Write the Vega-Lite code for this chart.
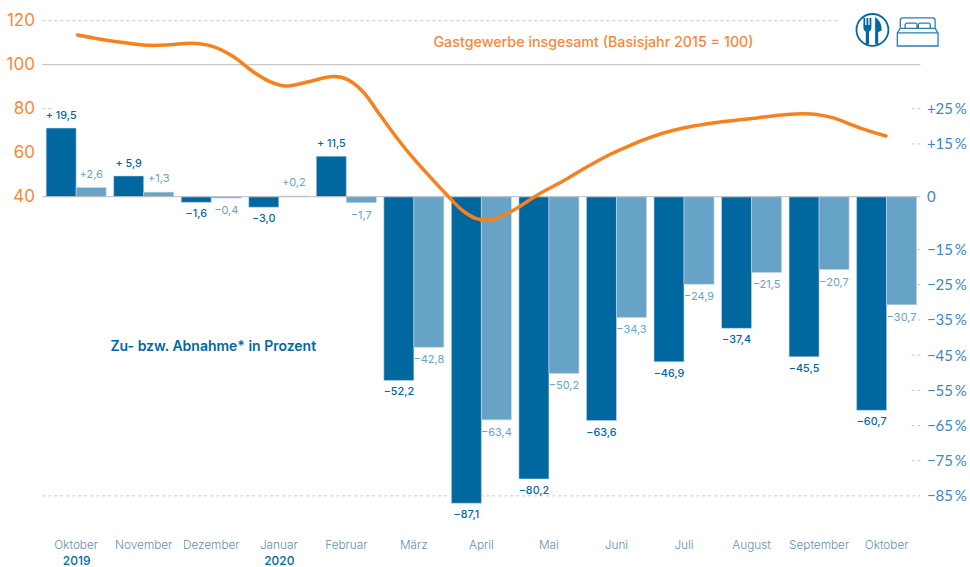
{
"$schema":"https://vega.github.io/schema/vega-lite/v6.json",
"width":878,"height":510.4,"autosize":"none",
"padding":{"left":42.4,"top":20.7,"right":50,"bottom":36},
"background":"white",
"config":{"view":{"stroke":null},"font":"Inter"},
"datasets":{
"balken":[
{"monat":"Oktober 2019","reihe":"a","wert":19.5,"text":"+ 19,5"},{"monat":"Oktober 2019","reihe":"b","wert":2.6,"text":"+2,6"},
{"monat":"November","reihe":"a","wert":5.9,"text":"+ 5,9"},{"monat":"November","reihe":"b","wert":1.3,"text":"+1,3"},
{"monat":"Dezember","reihe":"a","wert":-1.6,"text":"−1,6"},{"monat":"Dezember","reihe":"b","wert":-0.4,"text":"−0,4"},
{"monat":"Januar 2020","reihe":"a","wert":-3.0,"text":"−3,0"},{"monat":"Januar 2020","reihe":"b","wert":0.2,"text":"+0,2"},
{"monat":"Februar","reihe":"a","wert":11.5,"text":"+ 11,5"},{"monat":"Februar","reihe":"b","wert":-1.7,"text":"−1,7"},
{"monat":"März","reihe":"a","wert":-52.2,"text":"−52,2"},{"monat":"März","reihe":"b","wert":-42.8,"text":"−42,8"},
{"monat":"April","reihe":"a","wert":-87.1,"text":"−87,1"},{"monat":"April","reihe":"b","wert":-63.4,"text":"−63,4"},
{"monat":"Mai","reihe":"a","wert":-80.2,"text":"−80,2"},{"monat":"Mai","reihe":"b","wert":-50.2,"text":"−50,2"},
{"monat":"Juni","reihe":"a","wert":-63.6,"text":"−63,6"},{"monat":"Juni","reihe":"b","wert":-34.3,"text":"−34,3"},
{"monat":"Juli","reihe":"a","wert":-46.9,"text":"−46,9"},{"monat":"Juli","reihe":"b","wert":-24.9,"text":"−24,9"},
{"monat":"August","reihe":"a","wert":-37.4,"text":"−37,4"},{"monat":"August","reihe":"b","wert":-21.5,"text":"−21,5"},
{"monat":"September","reihe":"a","wert":-45.5,"text":"−45,5"},{"monat":"September","reihe":"b","wert":-20.7,"text":"−20,7"},
{"monat":"Oktober 2020","reihe":"a","wert":-60.7,"text":"−60,7"},{"monat":"Oktober 2020","reihe":"b","wert":-30.7,"text":"−30,7"}
],
"kurve":[
{"t":0.02,"index":113.5},{"t":0.5,"index":110.9},{"t":1.09,"index":108.8},{"t":1.39,"index":109.1},{"t":1.73,"index":109.7},{"t":2.03,"index":108.2},{"t":2.33,"index":103.6},{"t":2.62,"index":96.8},{"t":2.87,"index":92.3},{"t":3.1,"index":90.3},{"t":3.42,"index":92.1},{"t":3.81,"index":94.6},{"t":4.02,"index":93.2},{"t":4.25,"index":87.6},{"t":4.5,"index":77.1},{"t":4.75,"index":66.7},{"t":4.95,"index":59.0},{"t":5.24,"index":49.0},{"t":5.49,"index":40.8},{"t":5.73,"index":33.5},{"t":5.94,"index":29.9},{"t":6.09,"index":29.4},{"t":6.28,"index":30.8},{"t":6.53,"index":34.9},{"t":6.83,"index":40.8},{"t":7.21,"index":47.1},{"t":7.51,"index":52.6},{"t":7.86,"index":58.5},{"t":8.2,"index":63.2},{"t":8.4,"index":65.8},{"t":8.75,"index":69.4},{"t":9.14,"index":72.1},{"t":9.54,"index":74.0},{"t":9.94,"index":75.3},{"t":10.32,"index":76.7},{"t":10.72,"index":77.7},{"t":10.97,"index":77.4},{"t":11.21,"index":75.8},{"t":11.61,"index":71.2},{"t":11.99,"index":67.6}
],
"gestrichelt":[
{"stufe":120,"von":-0.5,"bis":11.3},{"stufe":80,"von":-0.5,"bis":-0.35},{"stufe":-96,"von":-0.5,"bis":12.5},
{"stufe":80,"von":12.37,"bis":12.5},{"stufe":64,"von":12.37,"bis":12.5},{"stufe":16,"von":12.37,"bis":12.5},{"stufe":0,"von":12.37,"bis":12.5},{"stufe":-16,"von":12.37,"bis":12.5},{"stufe":-32,"von":12.37,"bis":12.5},{"stufe":-48,"von":12.37,"bis":12.5},{"stufe":-64,"von":12.37,"bis":12.5},{"stufe":-80,"von":12.37,"bis":12.5}
]
},
"resolve":{"scale":{"x":"independent","y":"independent"},"axis":{"x":"independent","y":"independent"}},
"layer":[
{
"data":{"name":"gestrichelt"},
"layer":[
{"mark":{"type":"rule","color":"#c6c6c6","strokeWidth":1,"strokeDash":[3,3]},
"encoding":{
"x":{"field":"von","type":"quantitative","scale":{"domain":[-0.5,12.5],"nice":false,"zero":false},"axis":null},
"x2":{"field":"bis"},
"y":{"field":"stufe","type":"quantitative","scale":{"domain":[-112,120],"nice":false,"zero":false},
"axis":{"orient":"left","values":[40,60,80,100,120],"title":null,"domain":false,"ticks":false,"grid":false,"labelColor":"#f5893a","labelFontSize":17,"labelFont":"Inter","labelFontWeight":400,"labelPadding":8}}
}}
]
},
{
"data":{"name":"balken"},
"encoding":{
"x":{"field":"monat","type":"nominal","sort":null,
"scale":{"domain":["Oktober 2019","November","Dezember","Januar 2020","Februar","März","April","Mai","Juni","Juli","August","September","Oktober 2020"],"paddingInner":0,"paddingOuter":0},
"axis":{"orient":"bottom","title":null,"domain":false,"ticks":false,"grid":false,"labelAngle":0,"labelColor":"#5a92b6","labelFontSize":11.8,"labelFontWeight":300,"labelPadding":8,"labelExpr":"split(datum.label,' ')[0]"}},
"xOffset":{"field":"reihe","type":"nominal","scale":{"domain":["a","b"],"paddingInner":0,"paddingOuter":0.125}},
"y":{"field":"wert","type":"quantitative","scale":{"domain":[-95,50],"nice":false,"zero":false},
"axis":{"orient":"right","values":[25,15,0,-15,-25,-35,-45,-55,-65,-75,-85],"title":null,"domain":false,"ticks":false,"grid":false,"labelColor":"#3f88b5","labelFont":"Lato","labelFontSize":15,"labelPadding":6,"labelAlign":"left","labelExpr":"datum.value>0?'+'+datum.value+'\u2009%':datum.value<0?'−'+abs(datum.value)+'\u2009%':'0'"}}
},
"layer":[
{"mark":{"type":"bar","stroke":"#c4d9e7","strokeWidth":0.6},
"encoding":{"color":{"field":"reihe","type":"nominal","legend":null,"scale":{"domain":["a","b"],"range":["#00689f","#66a3c6"]}}}},
{"transform":[{"filter":"datum.reihe=='a' && datum.wert>0"}],"mark":{"type":"text","dy":-12,"fontSize":10.8,"fontWeight":500,"color":"#00689f"},"encoding":{"text":{"field":"text"}}},
{"transform":[{"filter":"datum.reihe=='a' && datum.wert<0"}],"mark":{"type":"text","dy":12,"fontSize":10.8,"fontWeight":500,"color":"#00689f"},"encoding":{"text":{"field":"text"}}},
{"transform":[{"filter":"datum.reihe=='b' && datum.wert>0"}],"mark":{"type":"text","dy":-13,"fontSize":11,"color":"#66a3c6"},"encoding":{"text":{"field":"text"}}},
{"transform":[{"filter":"datum.reihe=='b' && datum.wert<0"}],"mark":{"type":"text","dy":13,"fontSize":11,"color":"#66a3c6"},"encoding":{"text":{"field":"text"}}}
]
},
{
"data":{"name":"balken"},
"mark":{"type":"text","opacity":0},
"encoding":{
"x":{"field":"monat","type":"nominal","sort":null,
"scale":{"domain":["Oktober 2019","November","Dezember","Januar 2020","Februar","März","April","Mai","Juni","Juli","August","September","Oktober 2020"],"paddingInner":0,"paddingOuter":0},
"axis":{"orient":"bottom","title":null,"domain":false,"ticks":false,"grid":false,"labelAngle":0,"labelColor":"#00689f","labelFontSize":12,"labelFontWeight":500,"labelPadding":24,"labelExpr":"datum.label=='Oktober 2019'?'2019':datum.label=='Januar 2020'?'2020':''"}},
"text":{"field":"text"}
}
},
{
"encoding":{
"x":{"field":"t","type":"quantitative","scale":{"domain":[-0.5,12.5],"nice":false,"zero":false},"axis":null},
"y":{"field":"index","type":"quantitative","scale":{"domain":[-112,120],"nice":false,"zero":false},"axis":null}
},
"layer":[
{"data":{"values":[{"t":-0.5,"bis":12.5,"index":100},{"t":-0.5,"bis":12.5,"index":40}]},
"mark":{"type":"rule","color":"#bcbcbc","strokeWidth":1},"encoding":{"x2":{"field":"bis"}}},
{"data":{"name":"kurve"},"mark":{"type":"line","color":"#f5821f","strokeWidth":3.5,"interpolate":"catmull-rom","strokeCap":"round"}},
{"data":{"values":[{"t":7.66,"index":110,"text":"Gastgewerbe insgesamt (Basisjahr 2015 = 100)"}]},
"mark":{"type":"text","color":"#f5893a","fontSize":14.3,"fontWeight":500},"encoding":{"text":{"field":"text"}}},
{"data":{"values":[{"t":2.03,"index":-28.5,"text":"Zu- bzw. Abnahme* in Prozent"}]},
"mark":{"type":"text","color":"#00689f","fontSize":14,"fontWeight":600},"encoding":{"text":{"field":"text"}}},
{"data":{"values":[{"t":11.79,"index":115.8}]},
"mark":{"type":"point","shape":"circle","size":1018,"filled":false,"stroke":"#00689f","strokeWidth":1.8,"opacity":1}},
{"data":{"values":[{"t":11.79,"index":115.8}]},
"mark":{"type":"point","shape":"M-.5 -.67 L-.4 -.67 L-.4 -.28 L-.33 -.28 L-.33 -.67 L-.23 -.67 L-.23 -.28 L-.16 -.28 L-.16 -.67 L-.06 -.67 L-.06 -.12 C-.06 .02 -.12 .05 -.19 .08 L-.19 .8 L-.37 .8 L-.37 .08 C-.44 .05 -.5 .02 -.5 -.12 Z M.15 -.72 C.4 -.55 .55 -.25 .5 .05 L.32 .12 L.32 .8 L.15 .8 Z","size":1296,"filled":true,"color":"#00689f","opacity":1}},
{"data":{"values":[{"t":12.46,"index":114.9}]},
"mark":{"type":"point","shape":"M-.97 .67 H.97 V.05 L.83 -.17 H-.83 L-.97 .05 Z M-.97 .05 H.97 M-.83 -.17 V-.55 Q-.83 -.67 -.7 -.67 H.7 Q.83 -.67 .83 -.55 V-.17 M-.6 -.17 V-.33 Q-.6 -.42 -.5 -.42 H-.1 Q-.03 -.42 -.03 -.33 V-.17 M.03 -.17 V-.33 Q.03 -.42 .1 -.42 H.5 Q.6 -.42 .6 -.33 V-.17","size":1764,"filled":false,"stroke":"#2a7fae","strokeWidth":1.3,"opacity":1}}
]
}
]
}
